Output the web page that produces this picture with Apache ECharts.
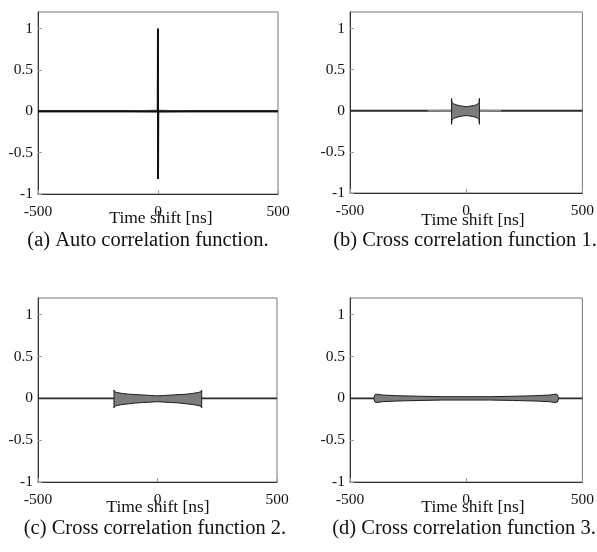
<!DOCTYPE html>
<html>
<head>
<meta charset="utf-8">
<script src="https://cdn.jsdelivr.net/npm/echarts@6/dist/echarts.min.js"></script>
<style>
  html, body { margin: 0; padding: 0; background: #fff; }
  #chart { width: 597px; height: 552px; }
</style>
</head>
<body>
<div id="chart"></div>
<script>
// Axis settings shared by all four panels
const xRange = [-500, 500];
const xStep = 500;
const yRange = [-1, 1.2];
const yStep = 0.5;

// (a) auto correlation: single spike at zero shift
const autoX = [-500, -1, 0, 0, 1, 500];
const autoY = [0, 0, 1, -0.82, 0, 0];
// low-level ripple around the peak
const rippleX0 = [-125, -60, 0, 60, 130];
const rippleUp0 = [0.01, 0.014, 0.02, 0.014, 0.01];
const rippleLo0 = [-0.01, -0.014, -0.02, -0.014, -0.01];

// (b) cross correlation 1: envelope of the oscillating region
const bandX1 = [-63, -61, -55, -45, -35, -25, -15, -5, 5, 15, 25, 35, 45, 52, 55, 57];
const bandUp1 = [0.15, 0.10, 0.085, 0.075, 0.065, 0.06, 0.055, 0.05, 0.05, 0.055, 0.06, 0.065, 0.075, 0.085, 0.10, 0.15];
const bandLo1 = [-0.165, -0.11, -0.095, -0.085, -0.075, -0.07, -0.065, -0.06, -0.06, -0.065, -0.07, -0.075, -0.085, -0.095, -0.11, -0.165];
const rippleX1 = [-165, -63, 57, 150];
const rippleUp1 = [0.008, 0.012, 0.012, 0.008];
const rippleLo1 = [-0.008, -0.012, -0.012, -0.008];

// (c) cross correlation 2
const bandX2 = [-182, -180, -170, -150, -120, -90, -60, -30, 0, 30, 60, 90, 120, 150, 170, 182, 185];
const bandUp2 = [0.10, 0.08, 0.07, 0.06, 0.05, 0.045, 0.04, 0.035, 0.03, 0.035, 0.04, 0.045, 0.05, 0.06, 0.07, 0.08, 0.10];
const bandLo2 = [-0.115, -0.095, -0.085, -0.075, -0.065, -0.055, -0.05, -0.045, -0.04, -0.045, -0.05, -0.055, -0.065, -0.075, -0.085, -0.095, -0.115];

// (d) cross correlation 3
const bandX3 = [-397, -392, -382, -360, -300, -200, -100, 0, 100, 200, 300, 360, 382, 392, 397];
const bandUp3 = [0.01, 0.045, 0.05, 0.04, 0.032, 0.025, 0.02, 0.02, 0.02, 0.025, 0.032, 0.04, 0.05, 0.045, 0.01];
const bandLo3 = [-0.01, -0.045, -0.05, -0.04, -0.032, -0.025, -0.02, -0.02, -0.02, -0.025, -0.032, -0.04, -0.05, -0.045, -0.01];

const zeroLineX = [-500, 500];
const zeroLineY = [0, 0];

const axisTitle = 'Time shift [ns]';
const captions = [
  '(a) Auto correlation function.',
  '(b) Cross correlation function 1.',
  '(c) Cross correlation function 2.',
  '(d) Cross correlation function 3.'
];

const FONT = '"Liberation Serif", "Times New Roman", serif';

const grids = [
  { left: 38, top: 12, width: 240, height: 182 },
  { left: 350, top: 12, width: 235, height: 181 },
  { left: 38, top: 298, width: 239, height: 184 },
  { left: 350, top: 298, width: 236, height: 184 }
];

// positions of the axis titles and captions under each panel
const textPos = [
  { tx: 161, ty: 218, cx: 148, cy: 241 },
  { tx: 473, ty: 220, cx: 465, cy: 241 },
  { tx: 158, ty: 507, cx: 155, cy: 529 },
  { tx: 473, ty: 507, cx: 464, cy: 529 }
];

function pairs(xs, ys) {
  return xs.map((x, i) => [x, ys[i]]);
}

function bandSeries(idx, xs, up, lo, fill, stroke, z) {
  return {
    type: 'custom',
    xAxisIndex: idx,
    yAxisIndex: idx,
    z: z,
    silent: true,
    clip: true,
    data: [[xs[0], up[0]]],
    renderItem: function (params, api) {
      const pts = [];
      for (let k = 0; k < xs.length; k++) pts.push(api.coord([xs[k], up[k]]));
      for (let k = xs.length - 1; k >= 0; k--) pts.push(api.coord([xs[k], lo[k]]));
      return {
        type: 'polygon',
        shape: { points: pts },
        style: { fill: fill, stroke: stroke, lineWidth: stroke ? 1 : 0 }
      };
    }
  };
}

function lineSeries(idx, data, width, color, z) {
  return {
    type: 'line',
    xAxisIndex: idx,
    yAxisIndex: idx,
    data: data,
    showSymbol: false,
    symbol: 'none',
    silent: true,
    z: z,
    lineStyle: { width: width, color: color },
    animation: false
  };
}

const xAxes = grids.map((g, i) => ({
  type: 'value',
  gridIndex: i,
  min: xRange[0],
  max: xRange[1],
  interval: xStep,
  axisLine: { show: true, onZero: false, lineStyle: { color: '#333', width: 1 } },
  axisTick: { show: true, inside: true, length: 4, lineStyle: { color: '#999' } },
  splitLine: { show: false },
  axisLabel: { fontFamily: FONT, fontSize: 15.5, color: '#111', margin: 10 }
}));

const yAxes = grids.map((g, i) => ({
  type: 'value',
  gridIndex: i,
  min: yRange[0],
  max: yRange[1],
  interval: yStep,
  axisLine: { show: true, onZero: false, lineStyle: { color: '#333', width: 1 } },
  axisTick: { show: true, inside: true, length: 4, lineStyle: { color: '#999' } },
  splitLine: { show: false },
  axisLabel: {
    fontFamily: FONT, fontSize: 15.5, color: '#111', margin: 5,
    showMaxLabel: false,
    formatter: v => String(v)
  }
}));

const series = [];
for (let i = 0; i < 4; i++) {
  series.push(lineSeries(i, pairs(zeroLineX, zeroLineY), 1.8, '#2a2a2a', 2));
}
series.push(bandSeries(0, rippleX0, rippleUp0, rippleLo0, '#9a9a9a', null, 3));
series.push(lineSeries(0, pairs(autoX, autoY), 2, '#111', 4));
series.push(bandSeries(1, rippleX1, rippleUp1, rippleLo1, '#8a8a8a', null, 3));
series.push(bandSeries(1, bandX1, bandUp1, bandLo1, '#7c7c7c', '#1e1e1e', 4));
series.push(bandSeries(2, bandX2, bandUp2, bandLo2, '#7c7c7c', '#1e1e1e', 4));
series.push(bandSeries(3, bandX3, bandUp3, bandLo3, '#7c7c7c', '#1e1e1e', 4));

const graphics = [];
textPos.forEach((p, i) => {
  graphics.push({
    type: 'text', x: p.tx, y: p.ty, silent: true,
    style: { text: axisTitle, font: '17.5px ' + FONT, fill: '#111', textAlign: 'center', textVerticalAlign: 'middle' }
  });
  graphics.push({
    type: 'text', x: p.cx, y: p.cy, silent: true,
    style: { text: captions[i], font: '20.5px ' + FONT, fill: '#111', textAlign: 'center', textVerticalAlign: 'middle' }
  });
});

const chart = echarts.init(document.getElementById('chart'), null, { renderer: 'canvas' });
chart.setOption({
  backgroundColor: '#fff',
  animation: false,
  grid: grids.map(g => Object.assign({ show: true, borderColor: '#777', borderWidth: 1, backgroundColor: 'transparent' }, g)),
  xAxis: xAxes,
  yAxis: yAxes,
  series: series,
  graphic: graphics
});
</script>
</body>
</html>
